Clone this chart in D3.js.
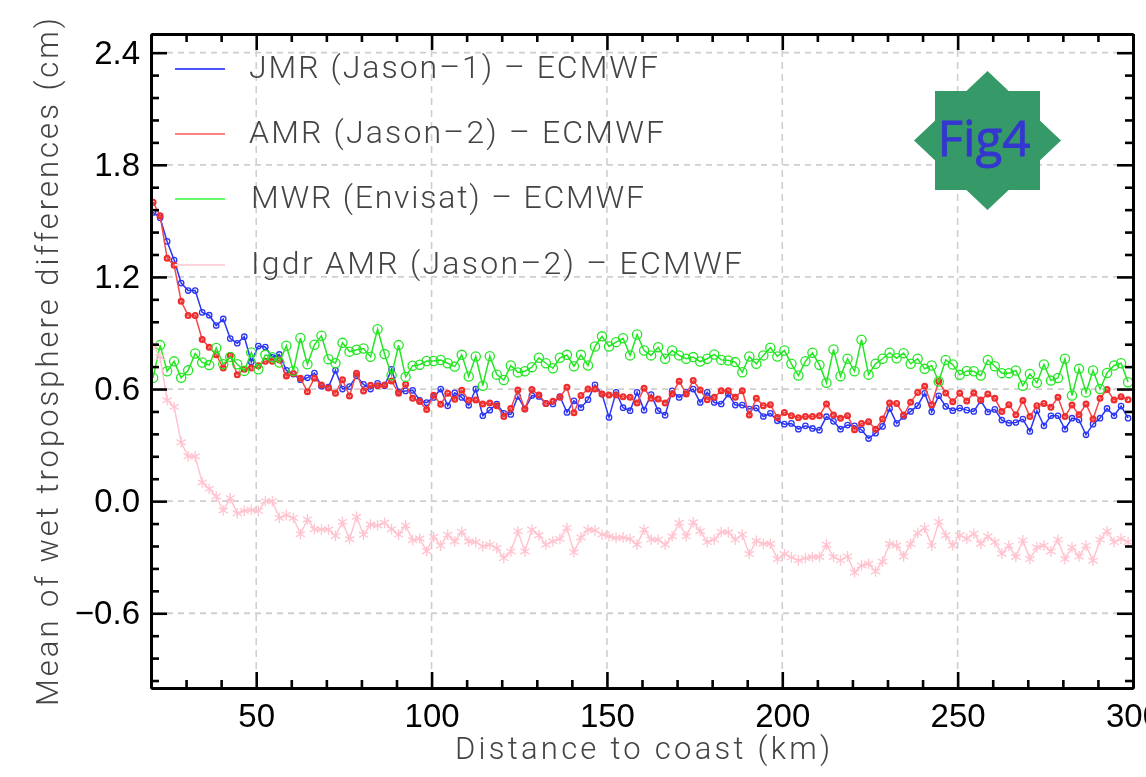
<!doctype html>
<html>
<head>
  <meta charset="UTF-8">
  <style>
    body { margin: 0; background: #fff; }
    svg { display: block; filter: blur(0.45px); }
    .tick text { font-family: "Liberation Sans", sans-serif; font-size: 33px; fill: #000; }
    .label { font-family: Roboto, "Liberation Sans", sans-serif; font-weight: 300; fill: #444; }
  </style>
  <script src="https://d3js.org/d3.v7.min.js"></script>
</head>
<body>
<svg width="1146" height="777"></svg>
<script>
// distance to coast (km), one value per 2 km bin
const distance = [20.6,22.6,24.6,26.6,28.6,30.6,32.6,34.6,36.6,38.6,40.6,42.6,44.6,46.6,48.6,50.6,52.6,54.6,56.6,58.6,
  60.6,62.6,64.6,66.6,68.6,70.6,72.6,74.6,76.6,78.6,80.6,82.6,84.6,86.6,88.6,90.6,92.6,94.6,96.6,98.6,
  100.6,102.6,104.6,106.6,108.6,110.6,112.6,114.6,116.6,118.6,120.6,122.6,124.6,126.6,128.6,130.6,132.6,134.6,136.6,138.6,
  140.6,142.6,144.6,146.6,148.6,150.6,152.6,154.6,156.6,158.6,160.6,162.6,164.6,166.6,168.6,170.6,172.6,174.6,176.6,178.6,
  180.6,182.6,184.6,186.6,188.6,190.6,192.6,194.6,196.6,198.6,200.6,202.6,204.6,206.6,208.6,210.6,212.6,214.6,216.6,218.6,
  220.6,222.6,224.6,226.6,228.6,230.6,232.6,234.6,236.6,238.6,240.6,242.6,244.6,246.6,248.6,250.6,252.6,254.6,256.6,258.6,
  260.6,262.6,264.6,266.6,268.6,270.6,272.6,274.6,276.6,278.6,280.6,282.6,284.6,286.6,288.6,290.6,292.6,294.6,296.6,298.6];

const jmr = [1.545,1.516,1.39,1.29,1.167,1.127,1.127,1.01,.995,.94,
  .975,.87,.845,.88,.745,.83,.825,.77,.785,.70,
  .68,.65,.66,.685,.615,.61,.70,.60,.613,.67,
  .625,.60,.63,.617,.705,.585,.59,.593,.54,.527,
  .555,.60,.51,.58,.555,.513,.60,.457,.487,.52,
  .47,.464,.56,.493,.565,.56,.523,.52,.56,.475,
  .537,.50,.543,.622,.573,.448,.582,.50,.484,.582,
  .487,.57,.484,.46,.59,.555,.582,.60,.528,.582,
  .528,.52,.573,.514,.514,.493,.498,.453,.47,.43,
  .412,.416,.385,.403,.389,.380,.452,.427,.385,.407,
  .403,.382,.335,.364,.400,.496,.416,.453,.480,.511,
  .577,.478,.564,.507,.484,.498,.487,.480,.538,.477,
  .491,.434,.418,.421,.439,.373,.484,.403,.457,.457,
  .385,.444,.435,.355,.412,.444,.496,.457,.509,.444];

const amr = [1.60,1.528,1.30,1.262,1.07,.993,.993,.865,.823,.784,
  .712,.78,.676,.706,.712,.725,.748,.748,.755,.67,
  .683,.658,.586,.658,.622,.605,.578,.65,.563,.685,
  .59,.62,.617,.622,.643,.578,.625,.55,.533,.49,
  .567,.518,.578,.545,.593,.54,.541,.52,.525,.511,
  .453,.496,.595,.493,.597,.568,.523,.534,.556,.609,
  .473,.565,.600,.600,.573,.568,.568,.559,.556,.525,
  .604,.55,.547,.525,.573,.642,.573,.645,.595,.543,
  .556,.591,.591,.556,.591,.461,.55,.511,.516,.448,
  .475,.457,.446,.453,.453,.457,.520,.461,.444,.457,
  .382,.416,.425,.385,.439,.525,.523,.461,.529,.582,
  .615,.516,.642,.579,.532,.577,.536,.579,.541,.573,
  .550,.480,.516,.462,.538,.453,.511,.523,.502,.556,
  .453,.514,.462,.520,.439,.550,.597,.541,.559,.543];

const mwr = [.66,.835,.695,.748,.66,.70,.79,.742,.728,.82,
  .733,.772,.733,.697,.796,.706,.783,.77,.742,.832,
  .697,.873,.733,.837,.885,.76,.738,.847,.80,.81,
  .817,.773,.92,.787,.674,.835,.665,.725,.73,.75,
  .75,.755,.738,.72,.783,.667,.774,.618,.776,.677,
  .648,.726,.689,.695,.717,.767,.738,.711,.767,.783,
  .722,.783,.726,.828,.882,.828,.851,.872,.780,.892,
  .806,.780,.824,.762,.806,.780,.762,.771,.747,.762,
  .785,.756,.753,.744,.69,.774,.735,.780,.821,.774,
  .806,.735,.672,.749,.794,.729,.633,.812,.668,.762,
  .695,.864,.677,.735,.762,.794,.765,.792,.735,.762,
  .708,.726,.640,.756,.731,.676,.697,.695,.672,.756,
  .722,.685,.685,.699,.618,.681,.633,.731,.645,.659,
  .762,.565,.708,.582,.699,.600,.686,.726,.738,.636];

const igdrAmr = [.835,.77,.54,.505,.315,.24,.24,.10,.066,.025,
  -.05,.016,-.065,-.052,-.047,-.052,0,0,-.09,-.074,
  -.09,-.177,-.098,-.15,-.152,-.152,-.186,-.111,-.204,-.084,
  -.18,-.125,-.13,-.116,-.15,-.179,-.13,-.209,-.2,-.268,
  -.191,-.238,-.18,-.216,-.164,-.216,-.219,-.242,-.233,-.251,
  -.305,-.269,-.161,-.269,-.152,-.183,-.233,-.215,-.202,-.143,
  -.274,-.194,-.152,-.156,-.179,-.188,-.197,-.194,-.202,-.233,
  -.152,-.206,-.206,-.233,-.188,-.116,-.188,-.113,-.161,-.219,
  -.206,-.165,-.167,-.206,-.179,-.283,-.212,-.228,-.228,-.31,
  -.283,-.301,-.317,-.305,-.299,-.299,-.233,-.299,-.317,-.296,
  -.382,-.344,-.335,-.376,-.323,-.228,-.237,-.296,-.229,-.170,
  -.143,-.238,-.111,-.183,-.237,-.183,-.201,-.174,-.228,-.188,
  -.219,-.281,-.238,-.299,-.210,-.310,-.247,-.237,-.269,-.206,
  -.310,-.247,-.296,-.238,-.319,-.206,-.161,-.219,-.201,-.219];

const legendNames = ["JMR (Jason\u20131) \u2013 ECMWF", "AMR (Jason\u20132) \u2013 ECMWF", "MWR (Envisat) \u2013 ECMWF", "Igdr AMR (Jason\u20132) \u2013 ECMWF"];
const xMajor = [50, 100, 150, 200, 250, 300];
const xMinor = [30, 40, 60, 70, 80, 90, 110, 120, 130, 140, 160, 170, 180, 190, 210, 220, 230, 240, 260, 270, 280, 290];
const yMajor = [-0.6, 0, 0.6, 1.2, 1.8, 2.4];
const yMinor = [-0.96, -0.84, -0.72, -0.48, -0.36, -0.24, -0.12, 0.12, 0.24, 0.36, 0.48, 0.72, 0.84, 0.96, 1.08, 1.32, 1.44, 1.56, 1.68, 1.92, 2.04, 2.16, 2.28];

var svg = d3.select("svg");
var left = 151, right = 1133, top_ = 34, bottom = 688;

var x = d3.scaleLinear().domain([20, 300]).range([left, right]);
var y = d3.scaleLinear().domain([-1, 2.5]).range([bottom, top_]);

svg.append("defs").append("clipPath").attr("id", "plot")
  .append("rect").attr("x", left).attr("y", top_).attr("width", right - left).attr("height", bottom - top_);

// grid
var grid = svg.append("g").attr("stroke", "#cfcfcf").attr("fill", "none");
grid.selectAll(".gx").data(xMajor.slice(0, 5)).enter().append("line")
  .attr("x1", d => x(d)).attr("x2", d => x(d))
  .attr("y1", top_ + 16).attr("y2", bottom - 16)
  .attr("stroke-width", 1.6).attr("stroke-dasharray", "7,5");
grid.selectAll(".gy").data(yMajor).enter().append("line")
  .attr("x1", left + 16).attr("x2", right - 16)
  .attr("y1", d => y(d)).attr("y2", d => y(d))
  .attr("stroke-width", 1.8).attr("stroke-dasharray", "6,5");

// series
var series = [
  {v: jmr, line: "#2a35f5", mark: "#2a35f5", r: 2.7, sw: 1.3},
  {v: amr, line: "#f44848", mark: "#f02c2c", r: 2.4, sw: 2.2},
  {v: mwr, line: "#22e622", mark: "#22e622", r: 4.6, sw: 1.3}
];
var plot = svg.append("g").attr("clip-path", "url(#plot)");
var lineGen = v => d3.line().x(d => x(d)).y((d, i) => y(v[i]))(distance);

series.forEach(function(s) {
  plot.append("path").attr("d", lineGen(s.v)).attr("fill", "none")
    .attr("stroke", s.line).attr("stroke-width", 1.5);
  plot.append("g").selectAll("circle").data(distance).enter().append("circle")
    .attr("cx", d => x(d)).attr("cy", (d, i) => y(s.v[i])).attr("r", s.r)
    .attr("fill", "none").attr("stroke", s.mark).attr("stroke-width", s.sw);
});

plot.append("path").attr("d", lineGen(igdrAmr)).attr("fill", "none")
  .attr("stroke", "#ffc4cf").attr("stroke-width", 1.5);
plot.append("g").selectAll("path").data(distance).enter().append("path")
  .attr("d", d3.symbol().type(d3.symbolAsterisk).size(80))
  .attr("transform", (d, i) => "translate(" + x(d) + "," + y(igdrAmr[i]) + ")")
  .attr("fill", "none").attr("stroke", "#ffc4cf").attr("stroke-width", 1.3);

// axes, all four sides
function frame(g) { g.select(".domain").attr("stroke", "#000").attr("stroke-width", 3); g.selectAll(".tick line").attr("stroke", "#000").attr("stroke-width", 2.6); }
function blank(g) { g.selectAll(".tick text").remove(); }

svg.append("g").attr("transform", "translate(0," + bottom + ")")
  .call(d3.axisBottom(x).tickValues(xMajor).tickSize(-16).tickSizeOuter(0).tickPadding(16).tickFormat(d3.format("d"))).call(frame);
svg.append("g").attr("transform", "translate(0," + bottom + ")")
  .call(d3.axisBottom(x).tickValues(xMinor).tickSize(-8).tickSizeOuter(0)).call(frame).call(blank);
svg.append("g").attr("transform", "translate(0," + top_ + ")")
  .call(d3.axisTop(x).tickValues(xMajor).tickSize(-16).tickSizeOuter(0)).call(frame).call(blank);
svg.append("g").attr("transform", "translate(0," + top_ + ")")
  .call(d3.axisTop(x).tickValues(xMinor).tickSize(-8).tickSizeOuter(0)).call(frame).call(blank);

svg.append("g").attr("transform", "translate(" + left + ",0)")
  .call(d3.axisLeft(y).tickValues(yMajor).tickSize(-16).tickSizeOuter(0).tickPadding(11).tickFormat(d => d3.format(".1f")(d).replace("-", "\u2212"))).call(frame);
svg.append("g").attr("transform", "translate(" + left + ",0)")
  .call(d3.axisLeft(y).tickValues(yMinor).tickSize(-8).tickSizeOuter(0)).call(frame).call(blank);
svg.append("g").attr("transform", "translate(" + right + ",0)")
  .call(d3.axisRight(y).tickValues(yMajor).tickSize(-16).tickSizeOuter(0)).call(frame).call(blank);
svg.append("g").attr("transform", "translate(" + right + ",0)")
  .call(d3.axisRight(y).tickValues(yMinor).tickSize(-8).tickSizeOuter(0)).call(frame).call(blank);

// axis titles
svg.append("text").attr("class", "label").attr("x", 455).attr("y", 759)
  .attr("font-size", 31).attr("textLength", 375).text("Distance to coast (km)");
svg.append("text").attr("class", "label").attr("transform", "translate(58,706) rotate(-90)")
  .attr("font-size", 31).attr("textLength", 688).text("Mean of wet troposphere differences (cm)");

// legend
var legendColor = ["#4a55ff", "#fb8080", "#66fb66", "#ffd3dc"];
var legendY = [69, 134, 199, 265];
var legendX = [249, 249, 251, 251];
var legendLen = [409, 415, 393, 491];
legendNames.forEach(function(name, i) {
  svg.append("line").attr("x1", 175).attr("x2", 225).attr("y1", legendY[i]).attr("y2", legendY[i])
    .attr("stroke", legendColor[i]).attr("stroke-width", 1.8);
  svg.append("text").attr("class", "label").attr("x", legendX[i]).attr("y", legendY[i] + 9)
    .attr("font-size", 32).attr("textLength", legendLen[i]).text(name);
});

// Fig4 badge
var star = svg.append("g").attr("transform", "translate(987.5,140.5)");
star.append("rect").attr("x", -52.5).attr("y", -49.5).attr("width", 105).attr("height", 99).attr("fill", "#359a68");
star.append("polygon").attr("points", "0,-69.5 73.5,0 0,69.5 -73.5,0").attr("fill", "#359a68");
star.append("text").attr("x", -50).attr("y", 15).attr("font-family", "'Open Sans', sans-serif").attr("font-size", 50)
  .attr("textLength", 93).attr("lengthAdjust", "spacingAndGlyphs").attr("stroke", "#3535d0").attr("stroke-width", 0.8)
  .attr("fill", "#3535d0").text("Fig4");
</script>
</body>
</html>
